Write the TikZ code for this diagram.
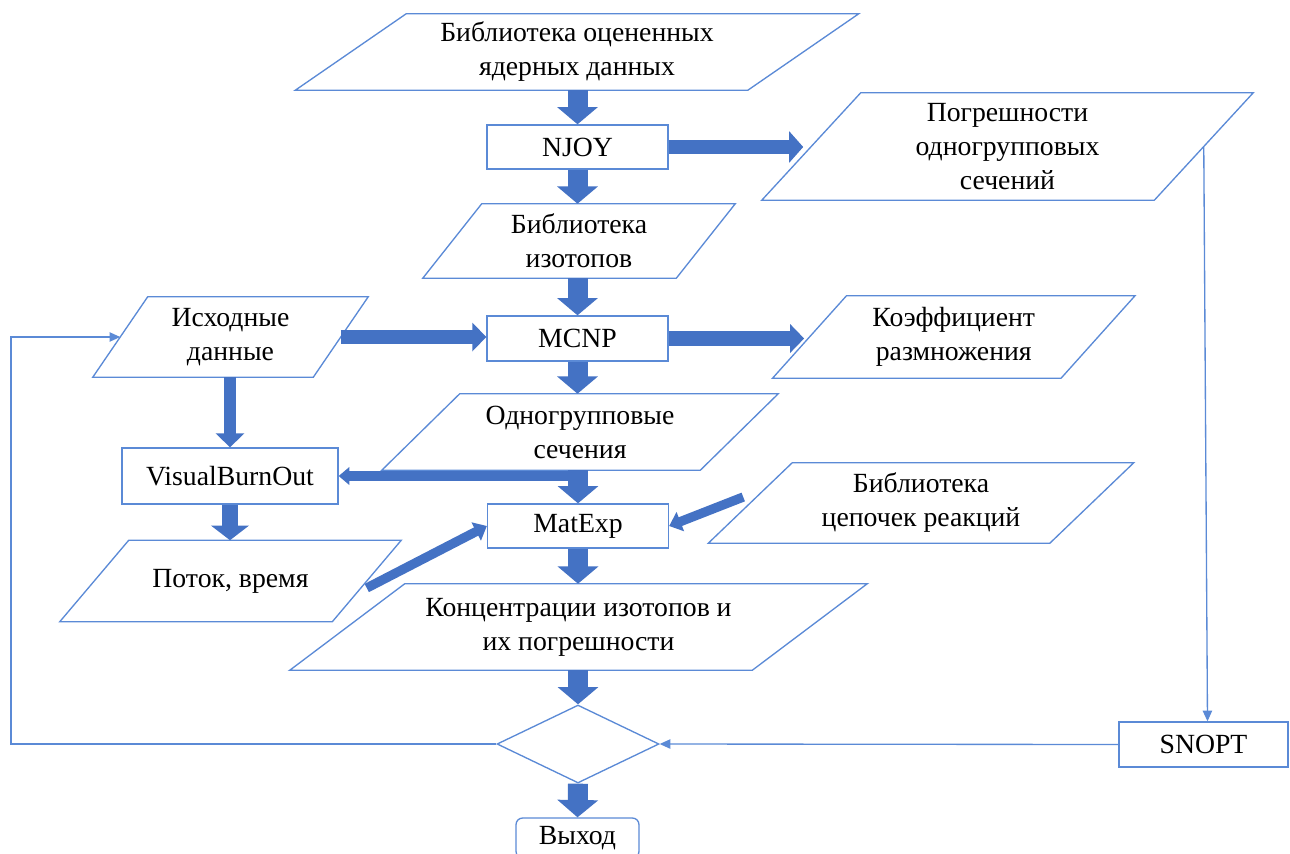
\documentclass[tikz,border=0pt]{standalone}
\usepackage{fontspec}
\setmainfont{Liberation Serif}
\usetikzlibrary{arrows.meta,shapes.geometric}
\definecolor{lineblue}{RGB}{91,138,214}
\definecolor{arrowblue}{RGB}{68,114,196}
\newcommand\drawpara[2]{%
  \draw[shapeline] ([xshift=-#2*0.375pt]#1.south west) -- ([xshift=-#2*0.375pt]#1.south east)
    -- ([xshift=#2*0.375pt]#1.north east) -- ([xshift=#2*0.375pt]#1.north west) -- cycle;}
\tikzset{
  shapeline/.style={draw=lineblue, line width=1pt, line join=miter},
  sz/.style 2 args={minimum width=#1*0.75pt, minimum height=#2*0.75pt},
  txt/.style={align=center, inner sep=0pt, font=\fontsize{20.8}{25.5}\selectfont},
  boxnode/.style={txt, draw=lineblue, line width=1pt, fill=white},
  paranode/.style={txt},
  vblk/.style={draw=arrowblue, line width=15pt, -{Triangle[width=30pt,length=13pt]}},
  hblk/.style={draw=arrowblue, line width=10pt, -{Triangle[width=23pt,length=10.5pt]}},
  mblk/.style={draw=arrowblue, line width=11pt, -{Triangle[width=21pt,length=10.5pt]}},
  lblk/.style={draw=arrowblue, line width=9pt, -{Triangle[width=21pt,length=10.5pt]}},
  sblk/.style={draw=arrowblue, line width=12pt, -{Triangle[width=28pt,length=11pt]}},
  dblk/.style={draw=arrowblue, line width=7pt, -{Triangle[width=15pt,length=9pt]}},
  tblk/.style={draw=arrowblue, line width=7pt, -{Triangle[width=13pt,length=8pt]}},
  thinarr/.style={draw=lineblue, line width=1pt, -{Triangle[width=7pt,length=8pt]}},
}
\begin{document}
\begin{tikzpicture}[x=0.75pt, y=-0.75pt]
\useasboundingbox (0,0) rectangle (1290,854);
\clip (0,0) rectangle (1290,854);
% parallelograms and boxes
\node[paranode, sz={452}{76}] (lib) at (577,52) {Библиотека оцененных\\ядерных данных};
\drawpara{lib}{111}
\node[boxnode, sz={181}{44}] (njoy) at (577.5,147) {NJOY};
\node[paranode, sz={392}{107}] (pogr) at (1007.5,146.5) {Погрешности\\одногрупповых\\сечений};
\drawpara{pogr}{99}
\node[paranode, sz={253}{74}] (iso) at (579,241) {Библиотека\\изотопов};
\drawpara{iso}{59}
\node[paranode, sz={220}{80}] (ishod) at (230.5,337) {Исходные\\данные};
\drawpara{ishod}{55}
\node[boxnode, sz={181}{45}] (mcnp) at (577.5,338.5) {MCNP};
\node[paranode, sz={288}{82}] (koef) at (953.75,337) {Коэффициент\\размножения};
\drawpara{koef}{74}
\node[paranode, sz={318}{76}] (odno) at (580,432) {Одногрупповые\\сечения};
\drawpara{odno}{78}
\node[boxnode, sz={216}{56}] (vbo) at (230,476) {VisualBurnOut};
\node[boxnode, sz={181}{44}] (matexp) at (578,526) {MatExp};
\node[paranode, sz={341}{80}] (cep) at (921,503) {Библиотека\\цепочек реакций};
\drawpara{cep}{84}
\node[paranode, sz={272}{81}] (potok) at (230.5,581) {Поток, время};
\drawpara{potok}{69}
\node[paranode, sz={462}{86}] (konc) at (578.5,627) {Концентрации изотопов и\\их погрешности};
\drawpara{konc}{115}
\node[diamond, draw=lineblue, line width=1pt, fill=white, inner sep=0pt, sz={162}{78}] (dia) at (578,744) {};
\node[boxnode, sz={169}{45}] (snopt) at (1203.5,744.5) {SNOPT};
\node[boxnode, rounded corners=5pt, sz={123}{40}] (vyhod) at (577.5,838) {Выход};
% thin connectors
\coordinate (lc) at (11,0);
\draw[thinarr] (pogr.east) -- ([xshift=3pt]snopt.north);
\draw[thinarr] (snopt.west) -- (dia.east);
\draw[thinarr] (dia.west) -- (dia.west -| lc) |- (ishod.west);
% block arrows
\draw[vblk] (njoy.north |- lib.south) -- (njoy.north);
\draw[hblk] (njoy.east) -- ([xshift=-6pt]pogr.west |- njoy.east);
\draw[vblk] (njoy.south) -- (njoy.south |- iso.north);
\draw[vblk] (iso.south -| mcnp.north) -- (mcnp.north);
\draw[mblk] (ishod.east) -- (mcnp.west |- ishod.east);
\draw[mblk] (mcnp.east) -- ([xshift=-4pt]koef.west |- mcnp.east);
\draw[vblk] (mcnp.south) -- (mcnp.south |- odno.north);
\draw[lblk] (vbo.north |- ishod.south) -- (vbo.north);
\coordinate (split) at (matexp.north |- vbo.east);
\draw[tblk] (split) -- (vbo.east);
\draw[vblk] (odno.south -| matexp.north) -- (matexp.north);
\draw[sblk] (vbo.south) -- (vbo.south |- potok.north);
\draw[dblk] ([shift={(0,7)}]potok.east) -- (matexp.west);
\draw[dblk] ([shift={(-7,-6)}]cep.west) -- (matexp.east);
\draw[vblk] (matexp.south) -- (matexp.south |- konc.north);
\draw[vblk] (konc.south -| dia.north) -- (dia.north);
\draw[vblk] (dia.south) -- (vyhod.north);
\end{tikzpicture}
\end{document}
